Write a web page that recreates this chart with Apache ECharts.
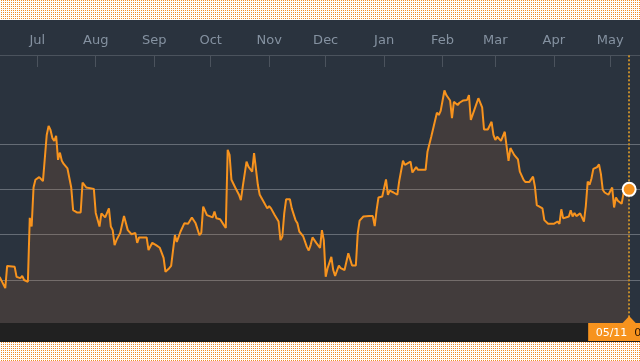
<!DOCTYPE html>
<html>
<head>
<meta charset="utf-8">
<script src="https://cdn.jsdelivr.net/npm/echarts@6/dist/echarts.min.js"></script>
<style>
  html, body { margin: 0; padding: 0; background: #ffffff; }
  body { width: 640px; height: 361px; overflow: hidden; position: relative; }
  #bg { position: absolute; left: 0; top: 0; width: 640px; height: 361px; }
  #chart {
    position: absolute; left: 0; top: 0;
    width: 640px; height: 361px;
    background: linear-gradient(to bottom, transparent 0px, transparent 20px, #2a333e 20px, #2a333e 323px, #212121 323px, #212121 342px, transparent 342px);
  }
</style>
</head>
<body>
<canvas id="bg" width="640" height="361"></canvas>
<div id="chart"></div>
<script>
const dates = [
  '2018-06-11','2018-06-14','2018-06-15','2018-06-19','2018-06-20','2018-06-22','2018-06-23','2018-06-24','2018-06-25','2018-06-26',
  '2018-06-27','2018-06-28','2018-06-29','2018-06-30','2018-07-02','2018-07-04','2018-07-05','2018-07-06','2018-07-07','2018-07-08',
  '2018-07-09','2018-07-10','2018-07-11','2018-07-12','2018-07-13','2018-07-14','2018-07-15','2018-07-17','2018-07-19','2018-07-20',
  '2018-07-22','2018-07-24','2018-07-25','2018-07-26','2018-07-27','2018-07-31','2018-08-01','2018-08-02','2018-08-03','2018-08-04',
  '2018-08-06','2018-08-07','2018-08-08','2018-08-09','2018-08-10','2018-08-11','2018-08-12','2018-08-14','2018-08-16','2018-08-18',
  '2018-08-20','2018-08-21','2018-08-22','2018-08-23','2018-08-24','2018-08-28','2018-08-29','2018-08-31','2018-09-02','2018-09-04',
  '2018-09-06','2018-09-07','2018-09-09','2018-09-10','2018-09-12','2018-09-13','2018-09-15','2018-09-17','2018-09-19','2018-09-21',
  '2018-09-23','2018-09-25','2018-09-26','2018-09-27','2018-09-28','2018-09-29','2018-10-02','2018-10-03','2018-10-04','2018-10-06',
  '2018-10-08','2018-10-09','2018-10-10','2018-10-11','2018-10-12','2018-10-14','2018-10-16','2018-10-17','2018-10-18','2018-10-19',
  '2018-10-20','2018-10-21','2018-10-23','2018-10-24','2018-10-25','2018-10-26','2018-10-27','2018-10-29','2018-10-31','2018-11-01',
  '2018-11-02','2018-11-04','2018-11-06','2018-11-07','2018-11-08','2018-11-09','2018-11-10','2018-11-12','2018-11-13','2018-11-15',
  '2018-11-16','2018-11-17','2018-11-19','2018-11-21','2018-11-22','2018-11-23','2018-11-24','2018-11-26','2018-11-28','2018-11-29',
  '2018-11-30','2018-12-01','2018-12-02','2018-12-04','2018-12-05','2018-12-06','2018-12-07','2018-12-08','2018-12-09','2018-12-11',
  '2018-12-13','2018-12-15','2018-12-17','2018-12-18','2018-12-19','2018-12-21','2018-12-24','2018-12-26','2018-12-27','2018-12-28',
  '2018-12-29','2018-12-31','2019-01-01','2019-01-02','2019-01-03','2019-01-04','2019-01-06','2019-01-08','2019-01-09','2019-01-11',
  '2019-01-12','2019-01-15','2019-01-16','2019-01-17','2019-01-18','2019-01-19','2019-01-23','2019-01-24','2019-01-26','2019-01-29',
  '2019-01-30','2019-01-31','2019-02-02','2019-02-03','2019-02-05','2019-02-06','2019-02-07','2019-02-08','2019-02-09','2019-02-10',
  '2019-02-12','2019-02-14','2019-02-15','2019-02-16','2019-02-18','2019-02-20','2019-02-22','2019-02-23','2019-02-25','2019-02-27',
  '2019-02-28','2019-03-01','2019-03-02','2019-03-04','2019-03-06','2019-03-07','2019-03-08','2019-03-09','2019-03-11','2019-03-13',
  '2019-03-14','2019-03-16','2019-03-17','2019-03-19','2019-03-21','2019-03-22','2019-03-23','2019-03-26','2019-03-27','2019-03-29',
  '2019-04-01','2019-04-03','2019-04-04','2019-04-05','2019-04-06','2019-04-07','2019-04-09','2019-04-10','2019-04-11','2019-04-12',
  '2019-04-13','2019-04-15','2019-04-16','2019-04-17','2019-04-18','2019-04-19','2019-04-20','2019-04-21','2019-04-22','2019-04-24',
  '2019-04-25','2019-04-26','2019-04-27','2019-04-28','2019-04-30','2019-05-01','2019-05-02','2019-05-03','2019-05-04','2019-05-05',
  '2019-05-07','2019-05-08','2019-05-11'
];
const values = [
  1.07,0.82,1.31,1.29,1.07,1.04,1.09,1.00,1.04,0.96,
  2.37,2.18,3.04,3.21,3.27,3.18,3.17,4.20,4.40,4.31,
  4.13,4.07,4.18,3.65,3.81,3.63,3.56,3.46,3.04,2.54,
  2.49,2.49,3.15,3.18,3.04,3.01,2.48,2.48,2.18,2.47,
  2.38,2.36,2.58,2.18,2.10,1.77,1.88,2.04,2.41,2.10,
  2.01,1.98,2.04,1.82,1.94,1.94,1.66,1.82,1.77,1.71,
  1.49,1.18,1.26,1.31,1.99,1.84,2.07,2.25,2.24,2.38,
  2.25,1.99,2.04,2.62,2.65,2.43,2.38,2.51,2.36,2.34,
  2.21,2.15,3.87,3.76,3.21,3.04,2.88,2.76,3.06,3.10,
  3.61,3.50,3.39,3.80,3.83,3.10,2.88,2.73,2.58,2.63,
  2.58,2.43,2.29,1.88,1.96,2.47,2.78,2.78,2.58,2.32,
  2.25,2.07,1.97,1.73,1.65,1.77,1.94,1.82,1.71,2.10,
  1.88,1.07,1.26,1.51,1.22,1.09,1.11,1.32,1.26,1.22,
  1.59,1.32,1.32,2.03,2.31,2.40,2.41,2.41,2.19,2.54,
  2.82,2.84,2.84,3.22,2.88,2.97,2.93,2.88,3.18,3.63,
  3.54,3.61,3.37,3.39,3.49,3.43,3.43,3.83,4.16,4.69,
  4.64,4.73,5.18,5.08,4.96,4.57,4.93,4.96,4.86,4.91,
  4.96,4.97,5.08,4.53,4.77,5.01,4.81,4.32,4.32,4.49,
  4.20,4.09,4.16,4.07,4.27,3.94,3.63,3.91,3.76,3.66,
  3.39,3.21,3.16,3.16,3.28,3.06,2.65,2.58,2.32,2.24,
  2.24,2.29,2.24,2.56,2.36,2.40,2.40,2.54,2.40,2.48,
  2.41,2.47,2.51,2.29,2.63,3.17,3.10,3.24,3.45,3.49,
  3.55,3.34,2.99,2.93,2.88,2.85,3.04,2.60,2.82,2.75,
  2.68,2.91,3.00
];
const tickDates = ['2018-07-01','2018-08-01','2018-09-01','2018-10-01','2018-11-01','2018-12-01','2019-01-01','2019-02-01','2019-03-01','2019-04-01','2019-05-01'];
const tickLabels = ['Jul','Aug','Sep','Oct','Nov','Dec','Jan','Feb','Mar','Apr','May'];

// page border pattern: orange pixel dots on white
(function () {
  const c = document.getElementById('bg');
  const ctx = c.getContext('2d');
  ctx.fillStyle = '#ffffff';
  ctx.fillRect(0, 0, 640, 361);
  ctx.fillStyle = '#f08c28';
  for (let y = 0; y < 361; y += 2) {
    if (y >= 20 && y < 342) continue;
    for (let x = 1; x < 640; x += 2) ctx.fillRect(x, y, 1, 1);
  }
})();

function toTime(s) {
  const p = s.split('-').map(Number);
  return new Date(p[0], p[1] - 1, p[2]).getTime();
}
const tickTimes = tickDates.map(toTime);
const seriesData = dates.map((d, i) => [toTime(d), values[i]]);
const lastIdx = dates.length - 1;
const lastTime = toTime(dates[lastIdx]);
const lastLabel = dates[lastIdx].slice(5, 7) + '/' + dates[lastIdx].slice(8, 10);

const ORANGE = '#f7931e';
const GRID = '#656c75';
const AXIS = '#4b535d';

const chart = echarts.init(document.getElementById('chart'), null, { renderer: 'canvas' });
chart.setOption({
  animation: false,
  backgroundColor: 'transparent',
  grid: { left: 0, right: 0, top: 55, bottom: 35.67, containLabel: false, outerBoundsMode: 'none' },
  xAxis: {
    type: 'value',
    position: 'top',
    min: new Date(2018, 5, 11, 5).getTime(),
    max: new Date(2019, 4, 16, 18).getTime(),
    axisLine: { show: true, onZero: false, lineStyle: { color: AXIS, width: 1 } },
    axisTick: { show: true, inside: true, length: 12, customValues: tickTimes, lineStyle: { color: AXIS, width: 1 } },
    axisLabel: {
      show: true,
      customValues: tickTimes,
      formatter: function (v) {
        const i = tickTimes.findIndex(t => Math.abs(t - v) < 3600000);
        return i >= 0 ? tickLabels[i] : '';
      },
      color: '#8592a1',
      fontSize: 13,
      fontFamily: 'DejaVu Sans',
      margin: 8
    },
    splitLine: { show: false }
  },
  yAxis: {
    type: 'value',
    min: 0,
    max: 5.963,
    interval: 1,
    axisLine: { show: false },
    axisTick: { show: false },
    axisLabel: { show: false },
    splitLine: {
      show: true,
      lineStyle: { color: ['rgba(0,0,0,0)', GRID, GRID, GRID, GRID, 'rgba(0,0,0,0)', 'rgba(0,0,0,0)'], width: 1 }
    }
  },
  series: [
    {
      type: 'line',
      data: seriesData,
      showSymbol: false,
      symbol: 'none',
      lineStyle: { color: ORANGE, width: 2 },
      areaStyle: { color: 'rgba(210,120,50,0.2)' },
      z: 3,
      markLine: {
        silent: true,
        symbol: 'none',
        label: { show: false },
        lineStyle: { color: '#c08a2c', width: 2, type: [2, 2] },
        data: [{ xAxis: lastTime }]
      }
    },
    {
      type: 'scatter',
      data: [[lastTime, values[lastIdx]]],
      symbolSize: 13,
      itemStyle: { color: ORANGE, borderColor: '#ffffff', borderWidth: 2, opacity: 1 },
      z: 5
    }
  ]
});

const px = chart.convertToPixel({ xAxisIndex: 0 }, lastTime);
chart.setOption({
  graphic: {
    elements: [
      { type: 'rect', z: 100, shape: { x: 0, y: 323, width: 640, height: 19 }, style: { fill: '#212121' } },
      { type: 'rect', z: 101, shape: { x: px - 41, y: 323, width: 70, height: 18 }, style: { fill: ORANGE } },
      { type: 'polygon', z: 101, shape: { points: [[px - 7, 323.5], [px, 316], [px + 7, 323.5]] }, style: { fill: ORANGE } },
      { type: 'text', z: 102, x: px - 33.5, y: 333, style: { text: lastLabel, fill: '#ffffff', font: '11px "DejaVu Sans"', verticalAlign: 'middle', align: 'left' } },
      { type: 'text', z: 102, x: px + 5, y: 333, style: { text: '00:00', fill: '#2a1400', font: '11px "DejaVu Sans"', verticalAlign: 'middle', align: 'left' } }
    ]
  }
});
</script>
</body>
</html>
